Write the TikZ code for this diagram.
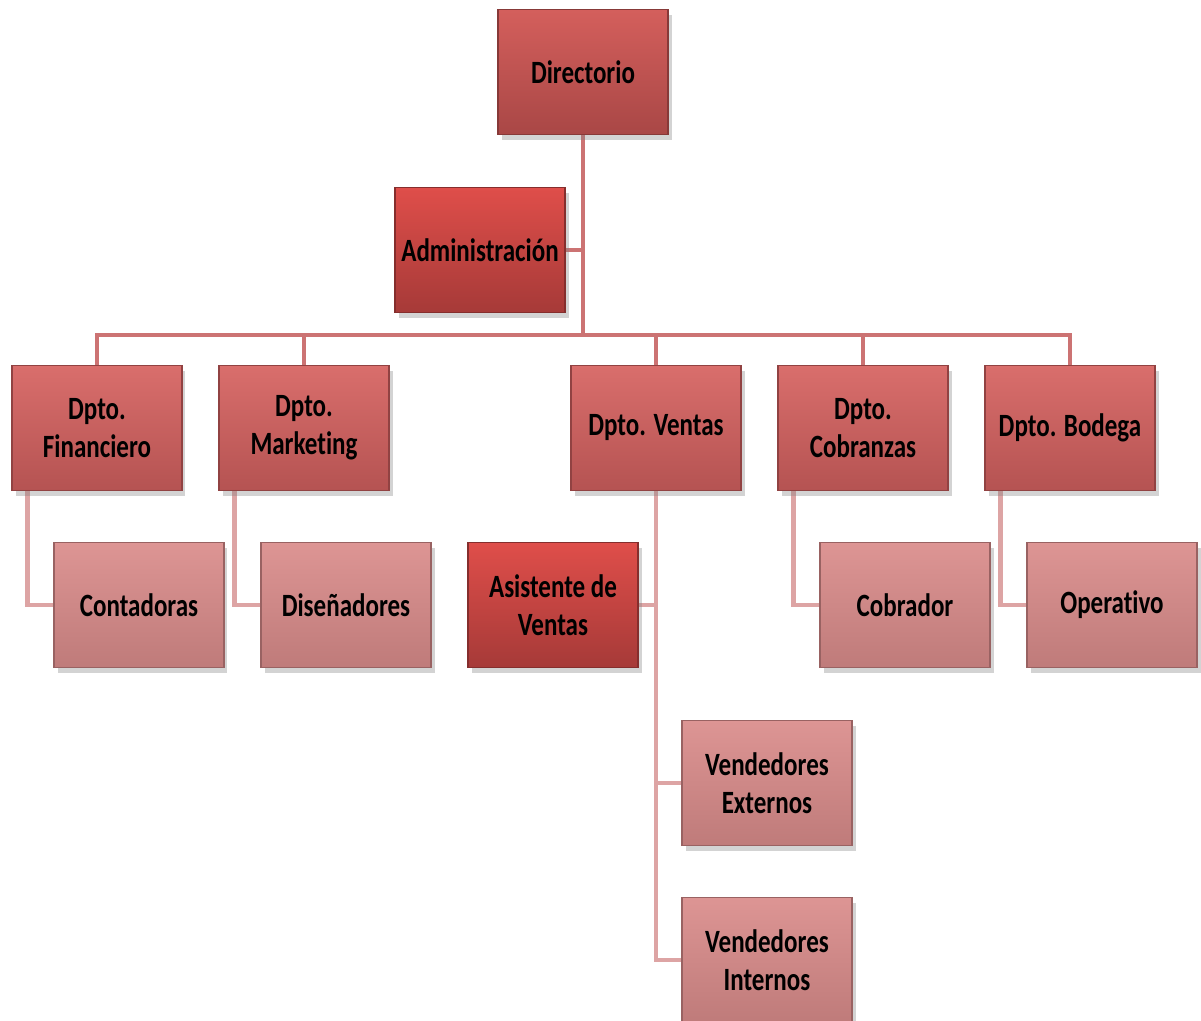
\documentclass[tikz,border=0pt]{standalone}
\usepackage{fontspec}
\newfontfamily\orgfont[Ligatures=NoCommon,FakeStretch=0.77,BoldFeatures={FakeStretch=0.77}]{Carlito}
\usetikzlibrary{shadows}

\definecolor{dirtop}{HTML}{D45F5C}
\definecolor{dirbot}{HTML}{A94746}
\definecolor{dptop}{HTML}{D96E6C}
\definecolor{dpbot}{HTML}{B55352}
\definecolor{admtop}{HTML}{DF4E4A}
\definecolor{admbot}{HTML}{A63A38}
\definecolor{subtop}{HTML}{DD9594}
\definecolor{subbot}{HTML}{BF7B7A}
\definecolor{linkup}{HTML}{CC7373}
\definecolor{linklow}{HTML}{DDA4A4}

\pgfdeclarelayer{links}
\pgfsetlayers{links,main}

\begin{document}
\begin{tikzpicture}[x=0.02cm, y=-0.02cm,
        box/.style={rectangle, minimum width=3.4cm, minimum height=2.5cm,
                    align=center, text=black, draw=#1!80!black, line width=0.6pt,
                    font=\orgfont\bfseries\fontsize{18.5}{21.5}\selectfont,
                    drop shadow={shadow xshift=2pt, shadow yshift=-3pt, opacity=0.35}},
        dirbox/.style={box=dirbot, top color=dirtop, bottom color=dirbot},
        dptbox/.style={box=dpbot, top color=dptop, bottom color=dpbot},
        admbox/.style={box=admbot, top color=admtop, bottom color=admbot},
        subbox/.style={box=subbot, top color=subtop, bottom color=subbot},
        upline/.style={draw=linkup, line width=2.8pt},
        lowline/.style={draw=linklow, line width=2.8pt}]

    \useasboundingbox (0,0) rectangle (1201,1021);

    \coordinate (bus) at (583,335);

    \node[dirbox] (dir) at (583,72) {Directorio};
    \node[admbox] (adm) at (480,250) {Administración};

    \node[dptbox] (fin) at (97,428)  {Dpto.\\Financiero};
    \node[dptbox] (mkt) at (304,428) {Dpto.\\Marketing};
    \node[dptbox] (ven) at (656,428) {Dpto. Ventas};
    \node[dptbox] (cob) at (863,428) {Dpto.\\Cobranzas};
    \node[dptbox] (bod) at (1070,428) {Dpto. Bodega};

    \node[subbox] (cont) at (139,605)  {Contadoras};
    \node[subbox] (dis)  at (346,605)  {Diseñadores};
    \node[admbox] (asis) at (553,605)  {Asistente de\\Ventas};
    \node[subbox] (cbr)  at (905,605)  {Cobrador};
    \node[subbox] (ope)  at (1112,605) {Operativo};
    \node[subbox] (vext) at (767,783)  {Vendedores\\Externos};
    \node[subbox] (vint) at (767,960)  {Vendedores\\Internos};

    % connectors behind the boxes
    \begin{pgfonlayer}{links}
    \draw[upline] (dir.south) -- (dir.south |- bus);
    \draw[upline] (adm.east) -- (adm.east -| dir.south);
    \draw[upline] (fin.north) -- (fin.north |- bus) -- (bod.north |- bus) -- (bod.north);
    \draw[upline] (mkt.north) -- (mkt.north |- bus);
    \draw[upline] (ven.north) -- (ven.north |- bus);
    \draw[upline] (cob.north) -- (cob.north |- bus);

    \draw[lowline] ([xshift=0.32cm]fin.south west) |- (cont.west);
    \draw[lowline] ([xshift=0.32cm]mkt.south west) |- (dis.west);
    \draw[lowline] ([xshift=0.32cm]cob.south west) |- (cbr.west);
    \draw[lowline] ([xshift=0.32cm]bod.south west) |- (ope.west);
    \draw[lowline] (ven.south) |- (vint.west);
    \draw[lowline] (asis.east) -- (asis.east -| ven.south);
    \draw[lowline] (vext.west) -- (vext.west -| ven.south);
    \end{pgfonlayer}
\end{tikzpicture}
\end{document}
